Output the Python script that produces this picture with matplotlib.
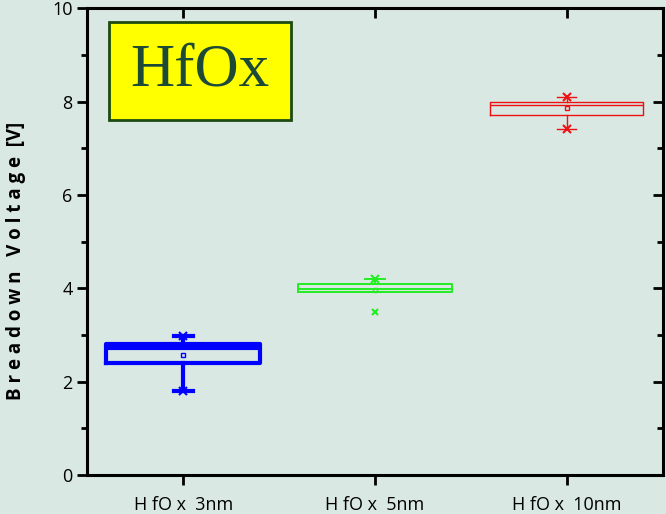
import matplotlib
matplotlib.use('Agg')
import matplotlib.pyplot as plt
import numpy as np

# box statistics
labels = ['H fO x  3nm', 'H fO x  5nm', 'H fO x  10nm']
q1 = [2.40, 3.91, 7.71]
med = [2.72, 3.99, 7.92]
q3 = [2.80, 4.09, 8.00]
mean = [2.57, 3.97, 7.86]
whislo = [1.79, 3.91, 7.41]
whishi = [2.98, 4.20, 8.10]
fliers = [[], [3.50], []]
colors = ['#0000ff', '#22ee22', '#ee1111']
widths = [3.0, 1.4, 1.0]

bg = '#d9e8e2'
fig = plt.figure(figsize=(6.66, 5.14), dpi=100, facecolor=bg)
ax = fig.add_axes([0.131, 0.076, 0.864, 0.908])
ax.set_facecolor(bg)

for i in range(3):
    stats = [{'q1': q1[i], 'med': med[i], 'q3': q3[i], 'mean': mean[i],
              'whislo': whislo[i], 'whishi': whishi[i], 'fliers': []}]
    c = colors[i]
    lw = widths[i]
    ax.bxp(stats, positions=[i + 1], widths=0.8, showmeans=True,
           boxprops=dict(color=c, linewidth=lw),
           medianprops=dict(color=c, linewidth=lw),
           whiskerprops=dict(color=c, linewidth=lw),
           capprops=dict(color=c, linewidth=lw),
           meanprops=dict(marker='s', markersize=3, markerfacecolor='none',
                          markeredgecolor=c, markeredgewidth=1),
           capwidths=0.1, manage_ticks=False)
    ends = [whishi[i]]
    if whislo[i] < q1[i]:
        ends.append(whislo[i])
    ax.plot([i + 1] * len(ends), ends, linestyle='none',
            marker='x', color=c, markersize=6, markeredgewidth=1.5)
    if fliers[i]:
        ax.plot([i + 1] * len(fliers[i]), fliers[i], linestyle='none',
                marker='x', color=c, markersize=5, markeredgewidth=1.5)

ax.set_xlim(0.5, 3.5)
ax.set_ylim(0, 10)
ax.set_xticks([1, 2, 3])
ax.set_xticklabels(labels, fontfamily='Open Sans', fontsize=12.5)
ax.set_yticks([0, 2, 4, 6, 8, 10])
ax.set_yticks([1, 3, 5, 7, 9], minor=True)
ax.tick_params(axis='both', which='major', direction='out', length=7, width=2,
               labelsize=13)
ax.tick_params(axis='x', which='major', pad=8)
ax.tick_params(axis='y', which='minor', direction='out', length=4, width=2)
for t in ax.get_yticklabels():
    t.set_fontfamily('Open Sans')
for s in ax.spines.values():
    s.set_linewidth(2.2)

# inward ticks on top and right
top = ax.secondary_xaxis('top')
top.set_xticks([1, 2, 3])
top.tick_params(direction='in', length=7, width=2, labeltop=False)
right = ax.secondary_yaxis('right')
right.set_yticks([0, 2, 4, 6, 8, 10])
right.set_yticks([1, 3, 5, 7, 9], minor=True)
right.tick_params(which='major', direction='in', length=7, width=2, labelright=False)
right.tick_params(which='minor', direction='in', length=4, width=2)

ax.set_ylabel('B r e a d o w n   V o l t a g e  [V]', fontfamily='Open Sans',
              fontweight='bold', fontsize=13.5)
ax.yaxis.set_label_coords(-0.106, 0.458)

ax.text(0.196, 0.865, 'HfOx', transform=ax.transAxes, ha='center', va='center',
        fontfamily='Liberation Serif', fontsize=44, color='#1d4a36',
        bbox=dict(boxstyle='square,pad=0.35', facecolor='#ffff00',
                  edgecolor='#1d4a10', linewidth=2))

fig.savefig('out.png', dpi=100, facecolor=bg)
